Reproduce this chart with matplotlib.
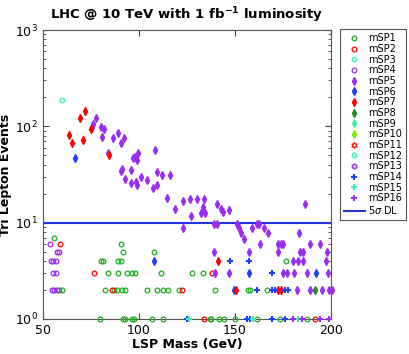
import numpy as np
import matplotlib
matplotlib.use("Agg")
import matplotlib.pyplot as plt

# ---- data (LSP mass in GeV, tri-lepton events) ----
msp1_x = [55.6, 90.6, 91.8, 108, 80.2, 81.4, 89.2, 90.5, 176.7,
          83.7, 88.9, 93.6, 96.2, 97.9, 111.4, 127.4, 133.2,
          58.5, 59.7, 82.3, 87, 88.7, 91, 92.7, 104.3, 109.6, 112.7, 115.3, 121, 139.6, 157, 157.8, 166.8,
          79.5, 91.5, 92.5, 96.2, 97.5, 106.6, 112.3, 136.8, 137.8, 141.5, 144.4, 150.3, 161.6, 173.4, 187.7]
msp1_y = [7, 6, 5, 5, 4, 4, 4, 4, 4,
          3, 3, 3, 3, 3, 3, 3, 3,
          2, 2, 2, 2, 2, 2, 2, 2, 2, 2, 2, 2, 2, 2, 2, 2,
          1, 1, 1, 1, 1, 1, 1, 1, 1, 1, 1, 1, 1, 1, 1]

msp2_x = [58.9, 76.7, 138.2, 85.8, 122.2, 134, 191.7]
msp2_y = [6, 3, 3, 2, 2, 1, 1]

msp3_x = [60]
msp3_y = [186]

msp4_x = [53.6, 57.4, 58.3, 54.2, 55.4, 56.6, 55.4, 56.6, 54.5, 55.7, 57.1]
msp4_y = [6, 5, 5, 4, 4, 4, 3, 3, 2, 2, 2]

msp5_x = [77.4, 75.7, 76.2, 80.2, 81.8, 80.6, 86.3, 88.9, 92.3, 90.5, 84, 96.7, 98.1, 99.3, 98.8,
          90.6, 91.3, 95.7, 92.9, 96, 98.4, 98.8, 108.2, 109.5, 112.1, 116.3, 101.2, 104, 107.3, 109.2,
          114.6, 118.8, 122.9, 126.6, 130.2, 134, 127.1, 133.2, 132.1, 134.5, 140.5, 142.5, 143.9, 146.7,
          138.9, 140.5, 123, 186.5, 150.9, 152.1, 153.3, 154.7, 158.9, 161.3, 162.8, 165.1, 167.2, 183.5,
          163, 172.5, 173.8, 175, 189, 194.3, 139, 157.4, 172.7, 183.8, 185.7, 197.8,
          180.2, 183.1, 185.6, 197.6, 139.6, 146.8, 174.8, 177.2, 180.7, 187.5, 198.6,
          182.3, 189, 195.5, 198.8, 200.4]
msp5_y = [123, 99, 105, 98, 94, 77, 76, 85, 76, 68, 52.5, 47, 48, 52.5, 45,
          34, 36, 35, 28.6, 25.6, 26.6, 24.6, 57, 33.6, 31.3, 31.5, 29.6, 27.7, 22.7, 24.4,
          17.9, 13.8, 16.7, 17.6, 17.6, 17.6, 11.7, 14.5, 12.7, 12.7, 15.7, 14, 12.8, 13.7,
          9.8, 9.8, 8.9, 15.6, 9.8, 8.8, 7.8, 6.8, 8.8, 9.8, 9.8, 8.8, 7.8, 7.8,
          6, 6, 6, 6, 6, 6, 5, 5, 5, 5, 5, 5,
          4, 4, 4, 4, 3, 3, 3, 3, 3, 3, 3,
          2, 2, 2, 2, 2]

msp6_x = [66.7, 108, 157.5, 192, 149.6]
msp6_y = [47, 4, 3, 3, 2]

msp7_x = [63.7, 65.1, 69.3, 71, 72, 75.2, 84.5, 141, 150.6, 172.6, 174]
msp7_y = [81, 68, 121, 72, 145, 94, 50, 4, 2, 2, 2]

msp8_x = [191.7]
msp8_y = [2]

msp14_x = [147.4, 157.5, 169.1, 161.7, 169.4, 170.8, 176, 177.8, 124.8, 156.1, 157.8, 169.3, 176.3]
msp14_y = [4, 4, 3, 2, 2, 2, 2, 2, 1, 1, 1, 1, 1]

msp15_x = [126, 159.2, 183]
msp15_y = [1, 1, 1]

msp16_x = [180.2, 184.7, 194.3, 199]
msp16_y = [1, 1, 1, 1]

dl_level = 10

green = '#1fae1f'
red = '#ff0000'
mint = '#3cf0a8'
purple = '#9a2cf5'
blue = '#1f3fff'

fig = plt.figure(figsize=(4.09, 3.54), dpi=100)
ax = fig.add_axes([0.105, 0.099, 0.704, 0.816])

star = (6, 1, 0)
series = [
    ('mSP1', msp1_x, msp1_y, 'o', green, 'none'),
    ('mSP2', msp2_x, msp2_y, 'o', red, 'none'),
    ('mSP3', msp3_x, msp3_y, 'o', mint, 'none'),
    ('mSP4', msp4_x, msp4_y, 'o', purple, 'none'),
    ('mSP5', msp5_x, msp5_y, 'd', purple, purple),
    ('mSP6', msp6_x, msp6_y, 'd', blue, blue),
    ('mSP7', msp7_x, msp7_y, 'd', red, red),
    ('mSP8', msp8_x, msp8_y, 'd', '#1a8a1a', '#1a8a1a'),
    ('mSP9', [], [], 'd', mint, mint),
    ('mSP10', [], [], 'd', '#77ee00', '#77ee00'),
    ('mSP11', [], [], star, red, 'none'),
    ('mSP12', [], [], star, mint, 'none'),
    ('mSP13', [], [], star, purple, 'none'),
    ('mSP14', msp14_x, msp14_y, '+', blue, blue),
    ('mSP15', msp15_x, msp15_y, '+', mint, mint),
    ('mSP16', msp16_x, msp16_y, '+', purple, purple),
]

for name, xs, ys, m, c, fc in series:
    if m == 'o':
        ms, mew = 3.4, 0.9
    elif m == 'd':
        ms, mew = 4.2, 1.0
    elif m == '+':
        ms, mew = 5, 1.5
    else:
        ms, mew = 4.5, 0.8
    ax.plot(xs, ys, linestyle='none', marker=m, markersize=ms, markeredgewidth=mew,
            markeredgecolor=c, markerfacecolor=fc, label=name, clip_on=False, zorder=3)

ax.axhline(dl_level, color='#2233dd', linewidth=1.5, label=r'5$\sigma$ DL', zorder=2)

ax.set_yscale('log')
ax.set_xlim(50, 200)
ax.set_ylim(1, 1000)
ax.set_xticks([50, 100, 150, 200])
ax.tick_params(which='both', direction='in', top=True, right=True, labelsize=9, colors='#444444',
               labelcolor='black')
ax.tick_params(which='major', length=4)
ax.tick_params(which='minor', length=2)
for s in ax.spines.values():
    s.set_color('#555555')

ax.set_title(r'LHC @ 10 TeV with 1 fb$^{\mathbf{-1}}$ luminosity', fontsize=9.5, fontweight='bold', pad=8)
ax.set_xlabel('LSP Mass (GeV)', fontsize=9, fontweight='bold', labelpad=1)
ax.set_ylabel('Tri Lepton Events', fontsize=9, fontweight='bold', labelpad=2)

leg = ax.legend(loc='upper left', bbox_to_anchor=(0.831, 0.917), bbox_transform=fig.transFigure,
                fontsize=7, labelspacing=0.07, handlelength=2.2, handletextpad=0.3,
                borderpad=0.4, borderaxespad=0, fancybox=False, framealpha=1)
leg.get_frame().set_edgecolor('#555555')
leg.get_frame().set_linewidth(0.8)

fig.savefig('out.png', dpi=100)
